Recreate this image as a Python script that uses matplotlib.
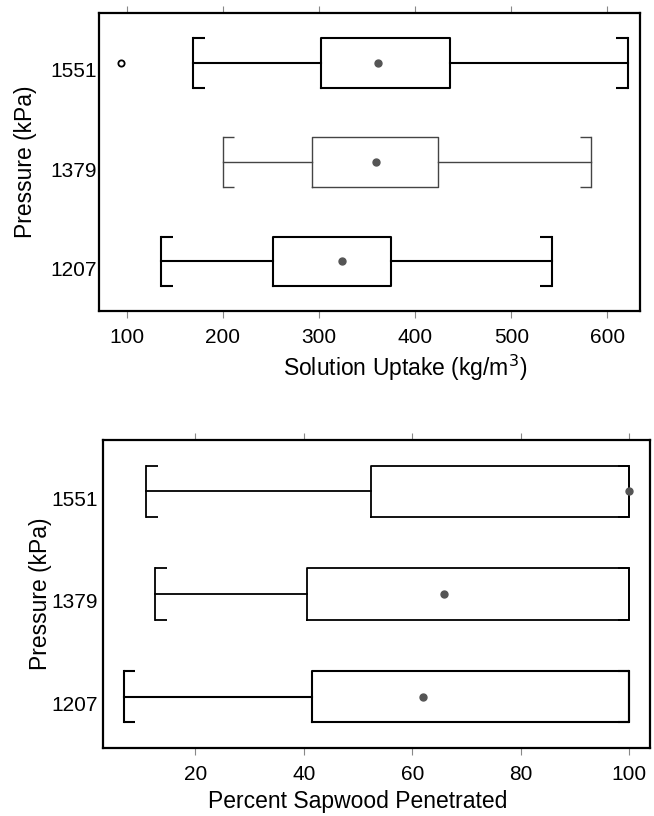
import numpy as np
import matplotlib.pyplot as plt
from matplotlib.transforms import ScaledTranslation

plt.rcParams['font.family'] = ['Liberation Sans', 'DejaVu Sans']

pressures = ['1207', '1379', '1551']

# solution uptake (kg/m3)
uptake_low = [136, 200, 169]
uptake_q1 = [252, 293, 302]
uptake_q3 = [375, 424, 436]
uptake_high = [542, 583, 621]
uptake_mean = [324, 359, 361]
uptake_fliers = [[], [], [94]]

# percent sapwood penetrated
pen_low = [6.8, 12.6, 11.0]
pen_q1 = [41.5, 40.6, 52.3]
pen_q3 = [100, 100, 100]
pen_high = [100, 100, 100]
pen_mean = [62.0, 65.9, 100]
pen_fliers = [[], [], []]


def panel(ax, low, q1, q3, high, mean, fliers, xlim, xticks, xlabel, lws, cols,
          ypad, xlab_pos, ylab_x):
    pos = np.arange(1, len(pressures) + 1)
    stats = []
    for i in range(len(pressures)):
        stats.append(dict(whislo=low[i], q1=q1[i], med=q1[i], q3=q3[i],
                          whishi=high[i], mean=mean[i], fliers=fliers[i]))
    art = ax.bxp(stats, positions=pos, orientation='horizontal', widths=0.5,
                 capwidths=0.5, showmeans=True,
                 medianprops=dict(linewidth=0),
                 meanprops=dict(marker='o', markerfacecolor='#555555',
                                markeredgecolor='#555555', markersize=5),
                 flierprops=dict(marker='o', markerfacecolor='white',
                                 markeredgecolor='black', markersize=4.5,
                                 markeredgewidth=1.3))
    tl = 0.021 * (xlim[1] - xlim[0])
    for i, p in enumerate(pos):
        lw, c = lws[i], cols[i]
        art['boxes'][i].set(linewidth=lw, color=c)
        for k in (2 * i, 2 * i + 1):
            art['whiskers'][k].set(linewidth=lw, color=c)
            art['caps'][k].set(linewidth=lw, color=c)
        ax.hlines([p - 0.25, p + 0.25], low[i], low[i] + tl, colors=c, linewidth=lw)
        ax.hlines([p - 0.25, p + 0.25], high[i] - tl, high[i], colors=c, linewidth=lw)
    ax.set_xlim(*xlim)
    ax.set_ylim(0.5, 3.5)
    ax.set_xticks(xticks)
    ax.set_yticks(pos)
    ax.set_yticklabels(pressures)
    ax.tick_params(axis='x', direction='out', top=True, labeltop=False,
                   length=5, color='#888888', labelsize=15, pad=7.5)
    ax.tick_params(axis='y', length=0, labelsize=15, pad=ypad)
    shift = ScaledTranslation(0, -5 / 72, ax.figure.dpi_scale_trans)
    for lab in ax.get_yticklabels():
        lab.set_transform(lab.get_transform() + shift)
    for s in ax.spines.values():
        s.set_linewidth(1.6)
    ax.set_ylabel('Pressure (kPa)', fontsize=16.5, va='center')
    ax.yaxis.set_label_coords(ylab_x, 0.5)
    ax.set_xlabel(xlabel, fontsize=16.5, va='baseline')
    ax.xaxis.set_label_coords(*xlab_pos)


fig = plt.figure(figsize=(6.54, 8.16), dpi=100)
fig.set_facecolor('white')

ax1 = fig.add_axes([0.1514, 0.6188, 0.8272, 0.3652])
panel(ax1, uptake_low, uptake_q1, uptake_q3, uptake_high, uptake_mean, uptake_fliers,
      (71, 634), [100, 200, 300, 400, 500, 600], 'Solution Uptake (kg/m$^3$)',
      [1.5, 1.0, 1.5], ['black', '#444444', 'black'],
      1.5, (0.566, -0.218), -0.135)

ax2 = fig.add_axes([0.1575, 0.0833, 0.8364, 0.3775])
panel(ax2, pen_low, pen_q1, pen_q3, pen_high, pen_mean, pen_fliers,
      (3, 103.8), [20, 40, 60, 80, 100], 'Percent Sapwood Penetrated',
      [1.5, 1.3, 1.3], ['black', 'black', 'black'],
      4, (0.466, -0.196), -0.115)

fig.savefig('out.png', dpi=100)
